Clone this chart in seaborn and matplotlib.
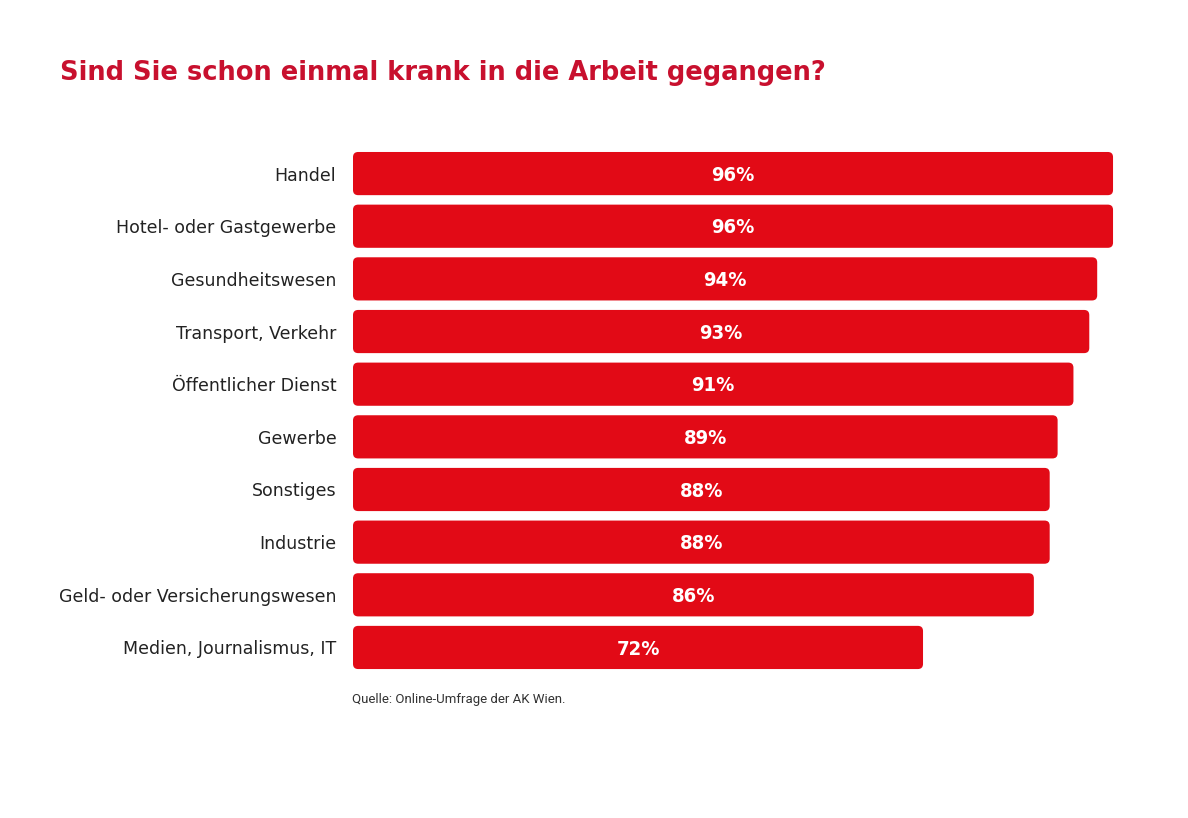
import matplotlib
matplotlib.use("Agg")
import matplotlib.pyplot as plt
import seaborn as sns
import pandas as pd
from matplotlib.patches import FancyBboxPatch

categories = ["Handel", "Hotel- oder Gastgewerbe", "Gesundheitswesen", "Transport, Verkehr",
              "Öffentlicher Dienst", "Gewerbe", "Sonstiges", "Industrie",
              "Geld- oder Versicherungswesen", "Medien, Journalismus, IT"]
values = [96, 96, 94, 93, 91, 89, 88, 88, 86, 72]
title = "Sind Sie schon einmal krank in die Arbeit gegangen?"
source = "Quelle: Online-Umfrage der AK Wien."

df = pd.DataFrame({"cat": categories, "val": values})

sns.set_theme(style="white")
plt.rcParams['font.family'] = ['DejaVu Sans']

BAR = "#e20a16"
fig = plt.figure(figsize=(11.88, 8.18), dpi=100)
ax = fig.add_axes([353/1188, 0.1763, 791.7/1188, 0.6437])
sns.barplot(data=df, x="val", y="cat", color=BAR, saturation=1, width=0.82, ax=ax, orient="h")
ax.set_xlim(0, 100)
ax.set_ylim(9.5, -0.5)

rects = list(ax.patches)
for p in rects:
    x, y = p.get_x(), p.get_y()
    w, h = p.get_width(), p.get_height()
    p.remove()
    fb = FancyBboxPatch((x, y), w, h, boxstyle="round,pad=0,rounding_size=0.65",
                        mutation_aspect=0.1503, facecolor=BAR, edgecolor="none")
    ax.add_patch(fb)
    ax.text(x + w / 2, y + h / 2 + 0.03, f"{int(round(w))}%", ha="center", va="center",
            color="white", fontsize=14.5, fontweight="bold", fontstretch="condensed",
            family=["DejaVu Sans", "Liberation Sans"])

for s in ax.spines.values():
    s.set_visible(False)
ax.set_xticks([])
ax.set_xlabel("")
ax.set_ylabel("")
ax.tick_params(axis="y", length=0, pad=12, labelsize=12.5, labelcolor="#222222")
for lab in ax.get_yticklabels():
    lab.set_family(["DejaVu Sans"])

fig.text(60/1188, 1 - 73/818, title, ha="left", va="center", color="#c8102e",
         fontsize=18.5, fontweight="bold", family=["DejaVu Sans"])
fig.text(352/1188, 1 - 699/818, source, ha="left", va="center", color="#333333",
         fontsize=9.5, family=["Roboto", "DejaVu Sans"])

fig.savefig("out.png", dpi=100, facecolor="white")
